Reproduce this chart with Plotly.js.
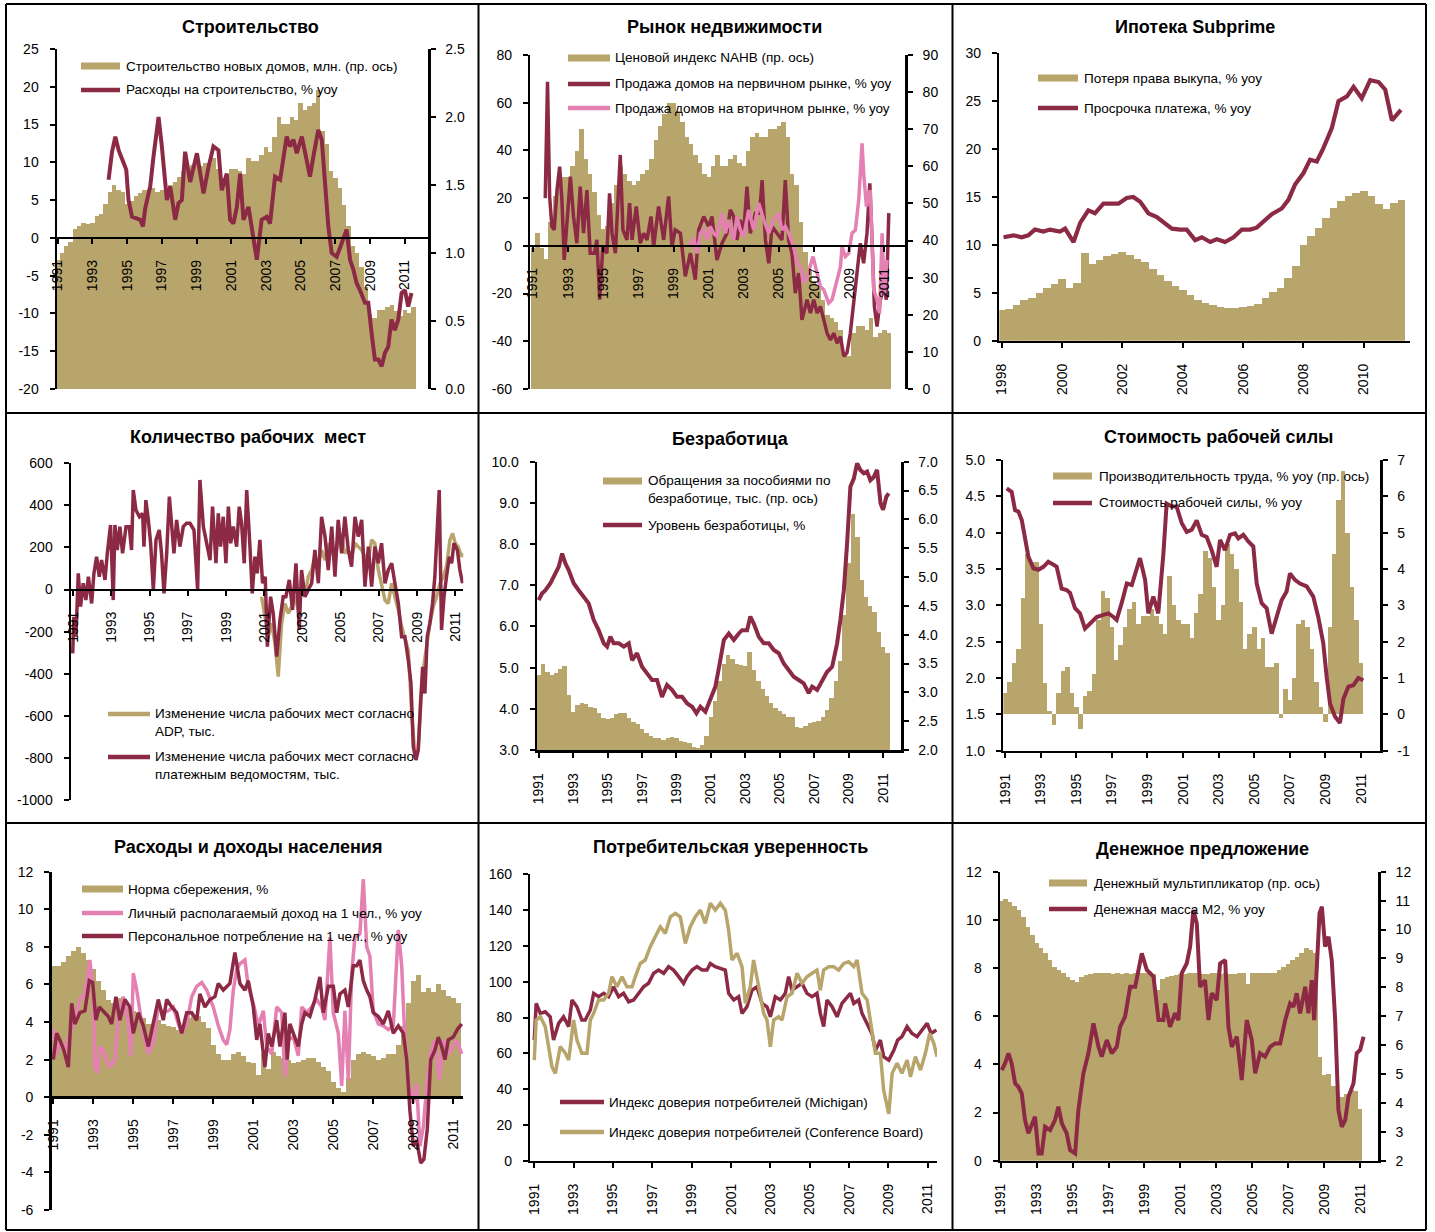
<!DOCTYPE html>
<html><head><meta charset="utf-8">
<script src="https://cdn.plot.ly/plotly-3.0.1.min.js"></script>
<style>body{margin:0;background:#fff}#chart{width:1435px;height:1232px}</style>
</head><body><div id="chart"></div>
<script>
// ---------------- DATA ----------------
// Panel 1: Строительство (quarterly from 1991 Q1)
const housingStarts = [0.95,1.0,1.05,1.08, 1.18,1.2,1.22,1.21, 1.22,1.27,1.29,1.36, 1.45,1.50,1.46,1.45, 1.36,1.38,1.42,1.44, 1.46,1.47,1.48,1.45, 1.46,1.47,1.50,1.52, 1.56,1.60,1.62,1.65, 1.70,1.64,1.66,1.66, 1.70,1.62,1.55,1.55, 1.62,1.62,1.60,1.58, 1.70,1.68,1.68,1.72, 1.78,1.74,1.85,2.0, 1.95,1.95,2.0,1.98, 2.1,2.05,2.08,2.1, 2.2,1.9,1.8,1.6, 1.55,1.48,1.35,1.2, 1.05,1.0,0.9,0.75, 0.55,0.52,0.58,0.58, 0.6,0.62,0.57,0.54, 0.58,0.56,0.6];
const constrSpendX = [1993.93,1994.13,1994.32,1994.51,1994.80,1994.95,1995.08,1995.28,1995.76,1995.91,1996.04,1996.33,1996.52,1996.81,1997.00,1997.29,1997.48,1997.77,1997.96,1998.15,1998.34,1998.63,1999.02,1999.21,1999.40,1999.69,1999.97,2000.26,2000.45,2000.74,2000.93,2001.12,2001.32,2001.51,2001.70,2001.99,2002.18,2002.47,2002.75,2003.04,2003.23,2003.52,2003.81,2004.00,2004.19,2004.38,2004.58,2004.77,2005.06,2005.34,2005.53,2005.73,2006.01,2006.21,2006.40,2006.59,2006.78,2007.07,2007.36,2007.64,2007.84,2008.03,2008.22,2008.41,2008.70,2008.89,2009.08,2009.27,2009.47,2009.66,2009.85,2010.04,2010.23,2010.42,2010.62,2010.81,2011.00,2011.19,2011.38];
const constrSpendY = [7.7,11.4,13.4,11.6,9.9,9.0,5.0,2.8,2.4,1.5,3.9,6.8,10.8,16.0,12.1,5.0,6.8,2.4,4.6,5.0,11.4,7.4,11.2,8.5,5.9,9.4,12.1,11.6,6.3,8.5,2.4,1.9,4.1,8.5,2.4,4.1,1.5,-2.9,2.4,2.8,1.9,8.1,7.7,10.3,13.4,12.1,13.0,11.2,13.4,10.3,8.1,10.8,14.3,13.0,6.8,1.5,-2.0,-2.5,-0.7,1.1,-2.9,-4.2,-6.0,-6.9,-8.6,-8.6,-12.6,-16.1,-16.1,-17.0,-15.2,-14.4,-10.8,-12.2,-10.8,-7.3,-6.9,-9.1,-7.3];

// Panel 2: Рынок недвижимости
const nahbIndex = [38,42,38,35, 45,52,56,57, 57,60,64,70, 62,58,53,47, 43,44,50,55, 60,58,56,55, 56,58,59,62, 67,71,74,77, 77,75,72,68, 66,63,61,58, 57,60,63,60, 60,62,63,61, 60,64,68,69, 68,68,70,70, 71,72,68,58, 55,45,37,32, 29,28,24,20, 19,18,16,10, 9,15,17,17, 16,19,14,15, 16,15];
const newHomeX = [1991.70,1991.83,1991.95,1992.08,1992.21,1992.37,1992.52,1992.65,1992.78,1992.94,1993.13,1993.31,1993.50,1993.69,1993.88,1994.07,1994.26,1994.49,1994.64,1994.80,1994.98,1995.21,1995.36,1995.50,1995.69,1995.97,1996.12,1996.35,1996.50,1996.64,1996.88,1997.11,1997.30,1997.49,1997.72,1997.87,1998.15,1998.44,1998.72,1998.91,1999.10,1999.39,1999.67,1999.96,2000.24,2000.43,2000.72,2001.00,2001.19,2001.47,2001.76,2002.04,2002.23,2002.42,2002.61,2002.80,2002.99,2003.18,2003.37,2003.66,2003.90,2004.04,2004.23,2004.42,2004.61,2004.89,2005.17,2005.36,2005.55,2005.74,2005.93,2006.12,2006.31,2006.60,2006.79,2006.98,2007.17,2007.36,2007.55,2007.74,2007.93,2008.12,2008.31,2008.50,2008.69,2008.87,2009.06,2009.25,2009.44,2009.63,2009.82,2010.01,2010.17,2010.30,2010.43,2010.58,2010.77,2011.00,2011.11,2011.25];
const newHomeY = [20,68.8,20.7,8.1,6.7,23.4,33.2,19.3,-5.9,12.3,29,12.3,1.1,24.8,5.3,23.4,-3.1,-3.1,2.5,-22.6,-0.3,-3.1,22,5.3,-3.1,38.1,6.7,2.5,17.9,2.5,16.5,1.1,5.3,2.5,12.3,-0.3,16.5,2.5,20.7,-0.3,6.7,5.3,-12.8,-3.1,-14.2,6.7,12.3,8.1,12.3,-5.9,1.1,5.3,15.1,12.3,2.5,10.9,5.3,24.8,5.3,13.7,13.7,27.6,2.5,-7.3,8.1,5.3,2.5,27.6,2.5,-3.1,-19.8,-11.4,-31,-22.6,-28.2,-22.6,-28.2,-25.4,-31,-36.6,-39.4,-36.6,-40.8,-38,-46.3,-44.9,-36.6,-22.6,-11.4,1.1,-7.3,5.3,26.2,2.5,-25.4,-33.8,-22.6,-17,-22.6,13.7];
const existHomeX = [1999.86,2000.15,2000.34,2000.53,2000.72,2000.91,2001.09,2001.28,2001.47,2001.76,2001.95,2002.14,2002.42,2002.61,2002.80,2002.99,2003.28,2003.56,2003.85,2004.13,2004.42,2004.70,2004.98,2005.17,2005.36,2005.55,2005.84,2006.03,2006.22,2006.41,2006.60,2006.79,2006.94,2007.17,2007.36,2007.55,2007.83,2008.02,2008.21,2008.50,2008.59,2008.78,2008.97,2009.16,2009.35,2009.54,2009.73,2009.82,2009.98,2010.20,2010.39,2010.58,2010.73,2010.87,2011.00,2011.15];
const existHomeY = [-0.3,3.2,-3.1,5.3,6.7,2.5,8.1,5.3,3.9,13.7,5.3,10.9,2.5,12.3,6.7,3.9,15.1,6.7,17.9,10.9,5.3,10.9,13.7,6.7,8.1,5.3,-0.3,-7.3,-8.7,-15.6,-12.8,-8.7,-4.5,-11.4,-17,-18.4,-24,-22.6,-17,-8.7,-0.3,-4.5,-3.1,5.3,6.7,19.3,43,30.4,16.5,23.4,-18.4,-22.6,-28.2,5.3,-19.8,-5.9];

// Panel 3: Ипотека Subprime (quarterly from 1998 Q1)
const foreclosure = [3.2,3.3,3.7,4.3, 4.5,5.0,5.5,5.9, 6.4,5.5,6.0,9.2, 8.0,8.4,8.8,9.1, 9.3,8.9,8.5,8.2, 7.5,6.9,6.2,5.7, 5.3,4.8,4.3,3.9, 3.7,3.5,3.4,3.4, 3.5,3.6,3.8,4.5, 5.1,5.5,6.5,7.8, 10.0,10.9,11.8,12.8, 13.9,14.6,15.1,15.4, 15.6,15.1,14.3,13.8, 14.4,14.7];
const delinqX = [1998.06,1998.39,1998.66,1998.88,1999.10,1999.38,1999.60,1999.93,2000.10,2000.38,2000.60,2000.87,2001.09,2001.37,2001.65,2001.87,2002.14,2002.36,2002.59,2002.86,2003.14,2003.41,2003.64,2003.91,2004.13,2004.41,2004.63,2004.91,2005.13,2005.40,2005.68,2005.96,2006.23,2006.45,2006.73,2006.95,2007.28,2007.50,2007.72,2008.00,2008.22,2008.44,2008.66,2008.94,2009.16,2009.44,2009.66,2009.93,2010.21,2010.49,2010.71,2010.93,2011.23];
const delinqY = [10.8,11.0,10.8,11.0,11.6,11.4,11.6,11.4,11.7,10.3,12.3,13.6,13.3,14.3,14.3,14.3,14.9,15.0,14.5,13.3,12.9,12.3,11.7,11.6,11.6,10.5,10.8,10.3,10.6,10.3,10.8,11.6,11.6,11.8,12.6,13.2,13.8,14.7,16.3,17.5,18.9,18.7,20.1,22.2,25.0,25.5,26.5,25.3,27.2,27.0,26.2,23.0,24.1];

// Panel 4: Количество рабочих мест
const payrollX = [1990.97,1991.03,1991.14,1991.26,1991.38,1991.52,1991.66,1991.79,1991.96,1992.08,1992.22,1992.36,1992.48,1992.66,1992.78,1992.95,1993.09,1993.18,1993.30,1993.44,1993.58,1993.76,1993.93,1994.05,1994.14,1994.28,1994.46,1994.63,1994.70,1994.80,1994.93,1995.05,1995.19,1995.33,1995.50,1995.62,1995.75,1995.89,1996.03,1996.15,1996.27,1996.41,1996.58,1996.76,1996.93,1997.11,1997.32,1997.51,1997.63,1997.81,1997.98,1998.16,1998.29,1998.47,1998.59,1998.71,1998.85,1998.99,1999.12,1999.24,1999.38,1999.55,1999.69,1999.81,1999.95,2000.08,2000.25,2000.37,2000.51,2000.63,2000.77,2000.91,2001.05,2001.16,2001.33,2001.47,2001.65,2001.82,2001.99,2002.13,2002.31,2002.48,2002.66,2002.83,2002.95,2003.13,2003.30,2003.48,2003.65,2003.83,2004.00,2004.18,2004.35,2004.53,2004.70,2004.87,2005.05,2005.22,2005.40,2005.57,2005.75,2005.92,2006.10,2006.27,2006.45,2006.62,2006.79,2006.97,2007.14,2007.32,2007.49,2007.67,2007.84,2008.02,2008.19,2008.36,2008.54,2008.68,2008.80,2008.94,2009.06,2009.19,2009.29,2009.41,2009.53,2009.67,2009.81,2009.93,2010.06,2010.16,2010.28,2010.41,2010.54,2010.69,2010.81,2010.93,2011.11,2011.24,2011.38];
const payrollY = [-303,-129,-224,77,-81,30,-50,61,-66,77,156,61,140,46,172,307,-50,307,188,299,172,299,299,188,473,378,346,362,204,425,331,220,-2,236,283,172,-18,172,442,299,172,331,204,299,315,315,283,-2,521,299,220,140,394,125,362,204,346,125,394,220,299,204,394,315,125,473,204,-18,156,77,236,30,61,-271,-34,-113,-319,-145,-34,-34,46,-97,125,-192,93,-34,-2,30,188,30,346,252,93,299,61,331,172,346,188,109,346,252,331,14,204,14,204,125,220,30,93,125,30,-66,-224,-224,-335,-446,-746,-810,-762,-573,-367,-494,-224,-160,-66,61,331,473,-192,-34,61,156,125,220,188,93,30];
const adpX = [2000.86,2001.03,2001.21,2001.38,2001.56,2001.73,2001.91,2002.08,2002.26,2002.43,2002.61,2002.78,2002.95,2003.13,2003.30,2003.48,2003.65,2003.83,2004.00,2004.18,2004.35,2004.53,2004.70,2004.87,2005.05,2005.22,2005.40,2005.57,2005.75,2005.92,2006.10,2006.27,2006.45,2006.62,2006.79,2006.97,2007.14,2007.32,2007.49,2007.67,2007.84,2008.02,2008.19,2008.36,2008.54,2008.71,2008.89,2009.06,2009.19,2009.32,2009.50,2009.67,2009.85,2010.02,2010.20,2010.37,2010.54,2010.72,2010.86,2011.00,2011.15,2011.33,2011.42];
const adpY = [-34,-129,-224,-160,-255,-414,-160,-66,-113,-81,-34,-97,-2,-34,61,93,156,125,188,140,220,172,156,220,252,172,188,156,220,204,188,156,140,236,220,93,30,-50,-66,30,-34,-97,-176,-224,-287,-573,-794,-762,-510,-383,-255,-160,-81,-34,30,61,109,236,267,220,204,156,172];

// Panel 5: Безработица (claims quarterly from 1991 Q1, right axis)
const jobClaims = [3.3,3.5,3.35,3.30, 3.33,3.40,3.45,2.95, 2.66,2.78,2.81,2.80, 2.75,2.72,2.65,2.55, 2.54,2.56,2.63,2.65, 2.65,2.55,2.48,2.45, 2.36,2.30,2.24,2.21, 2.20,2.17,2.20,2.22, 2.20,2.16,2.14,2.12, 2.06,2.03,2.08,2.25, 2.58,2.85,3.20,3.50, 3.65,3.58,3.50,3.47, 3.45,3.70,3.39,3.20, 3.05,2.93,2.82,2.72, 2.68,2.62,2.58,2.58, 2.40,2.38,2.42,2.46, 2.48,2.50,2.58,2.70, 2.90,3.20,3.55,4.35, 5.25,6.10,5.70,4.95, 4.65,4.50,4.40,4.05, 3.78,3.68];
const unempX = [1991.00,1991.19,1991.39,1991.68,1991.97,1992.16,1992.36,1992.55,1992.74,1993.03,1993.32,1993.61,1993.90,1994.19,1994.48,1994.78,1994.97,1995.16,1995.36,1995.65,1995.94,1996.23,1996.42,1996.71,1997.00,1997.29,1997.58,1997.87,1998.16,1998.45,1998.74,1999.03,1999.33,1999.62,1999.91,2000.16,2000.39,2000.68,2000.97,2001.26,2001.51,2001.75,2002.04,2002.33,2002.62,2002.81,2003.10,2003.29,2003.49,2003.78,2004.07,2004.36,2004.65,2004.94,2005.23,2005.52,2005.81,2006.10,2006.39,2006.68,2006.88,2007.17,2007.46,2007.75,2008.04,2008.33,2008.52,2008.72,2008.91,2009.10,2009.30,2009.49,2009.68,2009.88,2010.07,2010.26,2010.46,2010.65,2010.85,2011.00,2011.19,2011.33];
const unempY = [6.64,6.80,6.88,7.05,7.29,7.45,7.77,7.53,7.37,7.05,6.88,6.72,6.56,6.16,5.91,5.59,5.51,5.75,5.59,5.59,5.51,5.59,5.18,5.35,5.02,4.86,4.70,4.70,4.29,4.58,4.46,4.29,4.29,4.13,4.05,3.89,4.05,3.93,4.21,4.54,5.10,5.67,5.83,5.67,5.83,5.91,5.91,6.24,6.07,5.75,5.59,5.59,5.43,5.35,5.10,4.94,4.78,4.70,4.62,4.38,4.54,4.46,4.66,4.90,5.02,5.59,6.16,6.88,8.02,9.39,9.59,9.96,9.80,9.72,9.76,9.55,9.63,9.80,8.99,8.83,9.15,9.23];

// Panel 6: Стоимость рабочей силы (productivity quarterly from 1991 Q1, right axis)
const productivity = [0.6,0.9,1.4,1.8, 3.2,4.4,4.2,4.2, 2.5,0.85,0.1,-0.3, 0.6,1.2,1.3,0.6, 0.2,-0.4,0.5,0.65, 1.1,2.6,3.4,3.2, 2.4,1.5,1.9,2.4, 2.9,3.1,2.5,2.7, 2.7,2.9,2.7,2.5, 2.2,3.8,3.0,2.6, 2.5,2.5,2.1,2.8, 3.3,4.5,4.3,3.5, 2.6,3.0,4.7,4.4, 4.0,3.1,1.8,2.2, 2.4,1.8,2.1,1.3, 1.3,1.4,-0.1,0.7, 0.4,1.0,2.5,2.6, 2.4,1.8,0.9,0.2, -0.2,2.4,4.4,5.9, 6.7,5.0,3.5,2.6, 1.4];
const laborCostX = [1991.09,1991.37,1991.56,1991.75,1991.94,1992.12,1992.31,1992.59,1992.87,1993.15,1993.43,1993.72,1993.90,1994.18,1994.46,1994.65,1994.93,1995.21,1995.49,1995.78,1996.15,1996.52,1996.81,1997.09,1997.27,1997.55,1997.84,1998.12,1998.40,1998.58,1998.87,1999.05,1999.33,1999.61,1999.90,2000.08,2000.36,2000.64,2000.93,2001.21,2001.49,2001.77,2002.05,2002.33,2002.61,2002.89,2003.08,2003.36,2003.64,2003.92,2004.11,2004.39,2004.67,2004.95,2005.14,2005.42,2005.70,2005.98,2006.26,2006.54,2006.82,2007.01,2007.29,2007.57,2007.95,2008.32,2008.60,2008.88,2009.07,2009.26,2009.54,2009.82,2010.01,2010.29,2010.57,2010.85,2011.13];
const laborCostY = [4.61,4.56,4.31,4.29,4.17,3.94,3.67,3.51,3.49,3.53,3.60,3.56,3.53,3.23,3.21,3.17,2.96,2.89,2.68,2.75,2.84,2.87,2.89,2.84,2.80,3.03,3.30,3.28,3.53,3.65,3.35,2.89,3.12,2.89,3.72,4.40,4.36,4.36,4.13,4.01,4.04,4.17,3.97,3.94,3.76,3.53,3.90,3.76,3.97,3.99,3.92,3.97,3.88,3.81,3.30,3.03,2.96,2.61,2.84,3.07,3.19,3.44,3.35,3.30,3.26,3.12,2.84,2.48,2.02,1.65,1.47,1.38,1.71,1.88,1.90,2.00,1.97];

// Panel 7: Расходы и доходы населения (savings quarterly from 1991 Q1)
const savingsRate = [7.0,7.0,7.2,7.5, 7.8,8.0,7.7,7.3, 6.8,6.2,5.7,5.2, 5.0,5.3,5.0,4.8, 4.6,4.5,4.2,3.9, 3.9,4.1,3.9,3.8, 3.75,3.6,3.8,4.2, 4.4,4.3,4.0,3.7, 2.8,2.3,2.0,2.0, 2.3,2.4,2.2,1.9, 1.8,1.2,2.3,1.5, 2.4,2.2,2.1,2.0, 1.8,1.9,2.0,2.1, 2.1,1.9,1.6,1.4, 0.8,0.5,0.3,1.0, 2.0,2.3,2.4,2.3, 2.2,2.0,2.1,2.3, 2.3,2.8,3.8,5.0, 6.2,6.5,5.6,5.8, 5.6,6.0,5.7,5.4, 5.3,5.0];
const incomeX = [1991.00,1991.17,1991.33,1991.58,1991.83,1992.08,1992.33,1992.58,1992.83,1992.97,1993.08,1993.20,1993.33,1993.50,1993.67,1993.83,1994.08,1994.25,1994.50,1994.75,1994.88,1995.00,1995.17,1995.33,1995.50,1995.75,1996.00,1996.25,1996.50,1996.75,1997.00,1997.25,1997.42,1997.67,1997.92,1998.17,1998.42,1998.67,1999.00,1999.25,1999.50,1999.67,1999.83,2000.00,2000.17,2000.33,2000.58,2000.75,2001.00,2001.25,2001.50,2001.67,2001.92,2002.17,2002.42,2002.58,2002.75,2003.00,2003.25,2003.42,2003.67,2003.92,2004.17,2004.42,2004.58,2004.83,2005.00,2005.25,2005.42,2005.58,2005.75,2005.92,2006.08,2006.33,2006.50,2006.67,2006.83,2007.00,2007.25,2007.50,2007.75,2008.00,2008.25,2008.42,2008.58,2008.75,2009.00,2009.17,2009.33,2009.50,2009.67,2009.87,2010.08,2010.30,2010.50,2010.75,2011.00,2011.17,2011.42];
const incomeY = [3.6,2.3,3.0,2.5,3.4,4.1,5.2,5.5,7.3,5.9,1.6,1.3,2.7,2.5,2.0,1.6,2.0,4.3,5.35,3.9,2.2,6.6,5.7,4.6,3.4,2.3,2.9,4.8,4.5,4.6,4.8,3.9,3.4,3.9,5.35,5.9,6.1,5.7,4.8,3.8,3.05,2.8,3.6,5.7,6.8,7.1,7.3,5.9,5.0,3.8,4.6,2.7,2.3,4.8,4.5,1.1,3.05,3.2,2.2,4.8,4.5,4.8,5.2,4.8,4.1,8.5,4.5,3.4,0.6,4.6,0.9,6.6,8.5,8.7,11.6,8.0,7.5,4.6,3.9,3.8,3.6,3.8,8.9,7.0,3.05,0.9,-0.3,0.7,-2.6,-1.6,0.6,2.3,3.05,0.9,3.05,2.3,2.7,3.05,2.3];
const consumptionX = [1991.00,1991.17,1991.33,1991.53,1991.75,1991.92,1992.08,1992.33,1992.58,1992.80,1992.97,1993.13,1993.30,1993.50,1993.75,1993.92,1994.13,1994.33,1994.58,1994.83,1995.00,1995.25,1995.50,1995.75,1996.00,1996.25,1996.50,1996.67,1996.92,1997.17,1997.42,1997.67,1997.92,1998.17,1998.33,1998.58,1998.83,1999.08,1999.25,1999.50,1999.83,2000.08,2000.33,2000.58,2000.75,2001.00,2001.17,2001.33,2001.58,2001.75,2001.92,2002.17,2002.33,2002.58,2002.70,2002.83,2003.00,2003.25,2003.42,2003.58,2003.83,2004.08,2004.33,2004.50,2004.75,2005.00,2005.17,2005.33,2005.58,2005.75,2006.00,2006.17,2006.33,2006.50,2006.67,2006.83,2007.00,2007.25,2007.50,2007.75,2008.00,2008.25,2008.50,2008.67,2008.83,2009.00,2009.17,2009.37,2009.53,2009.70,2009.87,2010.08,2010.25,2010.42,2010.58,2010.75,2011.00,2011.20,2011.42];
const consumptionY = [2.0,3.4,3.05,2.5,1.6,5.0,3.9,4.5,4.6,6.2,6.1,4.1,4.8,4.6,4.3,3.9,5.35,4.1,5.2,4.8,3.4,4.5,3.8,2.7,3.9,5.2,4.1,5.2,4.8,4.5,3.4,4.5,4.5,4.1,5.5,4.8,5.2,5.35,6.05,5.7,6.05,7.7,6.05,5.7,6.2,4.8,3.05,3.9,1.6,3.4,2.7,4.1,2.7,4.5,2.0,3.9,3.4,2.7,3.9,4.5,4.3,5.2,6.4,4.5,5.9,5.9,4.5,5.5,5.7,4.8,7.0,7.0,7.3,6.2,5.7,5.35,4.5,4.3,3.9,4.6,3.4,3.8,3.4,2.0,-0.7,-2.6,-2.3,-3.5,-3.3,-1.7,2.0,2.5,3.2,2.7,2.0,3.05,3.2,3.6,3.9];

// Panel 8: Потребительская уверенность
const michiganX = [1991.00,1991.10,1991.31,1991.56,1991.81,1991.98,1992.24,1992.49,1992.75,1992.92,1993.17,1993.42,1993.59,1993.85,1994.02,1994.27,1994.53,1994.78,1995.03,1995.29,1995.54,1995.80,1996.05,1996.31,1996.56,1996.81,1997.07,1997.32,1997.58,1997.83,1998.08,1998.34,1998.59,1998.76,1999.02,1999.27,1999.53,1999.78,1999.95,2000.20,2000.46,2000.71,2000.88,2001.14,2001.39,2001.56,2001.81,2002.07,2002.32,2002.58,2002.83,2003.00,2003.25,2003.51,2003.76,2003.93,2004.10,2004.36,2004.61,2004.86,2005.12,2005.37,2005.54,2005.71,2005.88,2006.14,2006.39,2006.64,2006.90,2007.07,2007.24,2007.49,2007.66,2007.92,2008.17,2008.34,2008.59,2008.76,2009.02,2009.27,2009.47,2009.69,2009.95,2010.20,2010.46,2010.71,2010.97,2011.17,2011.44];
const michiganY = [67.4,87.9,82.3,83.2,80.4,67.4,76.7,80.4,74.9,89.8,86,78.6,78.6,84.2,93.5,91.6,93.5,91.6,97.2,91.6,93.5,88.8,89.8,93.5,97.2,99.1,104.7,106.5,104.7,108.4,106.5,102.8,99.1,102.8,106.5,108.4,106.5,106.5,110.2,108.4,107.4,106.5,93.5,89.8,91.6,82.3,86,95.3,97.2,87.9,86,80.4,91.6,89.8,93.5,102.8,95.3,97.2,99.1,93.5,91.6,93.5,82.3,74.9,89.8,86,80.4,87.9,91.6,93.5,87.9,89.8,82.3,76.7,70.8,61.5,67.4,58.1,56.2,61.5,67.4,69.3,74.9,71.1,69.3,73,76.7,71.1,73];
const confBoardX = [1991.00,1991.10,1991.31,1991.56,1991.73,1991.90,1992.07,1992.32,1992.58,1992.75,1993.00,1993.17,1993.42,1993.68,1993.85,1994.02,1994.27,1994.53,1994.78,1994.95,1995.20,1995.46,1995.71,1995.97,1996.14,1996.39,1996.64,1996.90,1997.15,1997.41,1997.66,1997.92,1998.17,1998.42,1998.68,1998.93,1999.19,1999.44,1999.69,1999.95,2000.20,2000.46,2000.71,2000.88,2001.05,2001.31,2001.56,2001.73,2001.98,2002.15,2002.41,2002.66,2002.83,2003.00,2003.17,2003.42,2003.59,2003.85,2004.10,2004.36,2004.61,2004.86,2005.12,2005.37,2005.54,2005.71,2005.97,2006.22,2006.47,2006.73,2006.98,2007.24,2007.41,2007.66,2007.92,2008.17,2008.34,2008.59,2008.76,2009.02,2009.19,2009.44,2009.69,2009.95,2010.12,2010.37,2010.63,2010.88,2011.10,2011.31,2011.47];
const confBoardY = [56.2,78.6,80.4,74.9,63.7,52.5,48.8,63.7,60,56.2,78.6,67.4,60,60,78.6,82.3,89.8,89.8,93.5,102.8,97.2,102.8,97.2,97.2,102.8,110.2,112.1,119.6,125.1,130.7,127,136.3,138.2,136.3,121.4,130.7,136.3,140,132.6,143.8,140,143.8,140,128.8,112.1,115.8,108.4,87.9,97.2,112.1,97.2,82.3,78.6,63.7,78.6,80.4,78.6,91.6,93.5,104.7,99.1,102.8,104.7,106.5,95.3,106.5,108.4,108.4,106.5,110.2,111.2,108.4,112.1,93.5,89.8,70.8,60,60,39.3,26.1,48.8,54.4,48.8,56.2,46.9,58.1,50.6,60,71.1,65.5,58.1];

// Panel 9: Денежное предложение (multiplier quarterly from 1991 Q1, right axis)
const moneyMult = [11.0,11.05,10.95,10.8, 10.67,10.45,10.1,9.8, 9.52,9.35,9.17,8.95, 8.71,8.6,8.48,8.35, 8.25,8.19,8.37,8.42, 8.45,8.48,8.48,8.48, 8.48,8.46,8.48,8.47, 8.48,8.45,8.48,8.5, 8.5,8.48,8.45,7.9, 8.3,8.35,8.4,8.42, 8.45,8.45,8.5,8.5, 8.5,8.45,8.45,8.48, 8.48,8.45,8.48,8.45, 8.45,8.48,8.48,8.1, 8.48,8.48,8.48,8.48, 8.48,8.5,8.6,8.7, 8.8,8.95,9.05,9.2, 9.35,9.3,9.2,5.6, 4.95,5.0,4.6,4.3, 4.2,4.3,4.45,4.4, 3.8];
const m2X = [1991.06,1991.24,1991.43,1991.61,1991.80,1991.98,1992.17,1992.35,1992.54,1992.73,1992.91,1993.10,1993.28,1993.47,1993.75,1994.02,1994.21,1994.40,1994.67,1994.86,1995.14,1995.32,1995.60,1995.88,1996.16,1996.44,1996.62,1996.90,1997.18,1997.46,1997.64,1997.92,1998.20,1998.48,1998.66,1998.85,1999.13,1999.50,1999.78,2000.05,2000.15,2000.42,2000.70,2000.89,2001.07,2001.35,2001.54,2001.72,2001.91,2002.09,2002.37,2002.56,2002.74,2003.02,2003.21,2003.49,2003.67,2003.86,2004.14,2004.41,2004.69,2004.97,2005.16,2005.43,2005.71,2005.99,2006.27,2006.55,2006.83,2007.10,2007.29,2007.47,2007.66,2007.94,2008.12,2008.31,2008.44,2008.59,2008.74,2008.87,2009.05,2009.24,2009.42,2009.61,2009.79,2009.98,2010.17,2010.35,2010.63,2010.81,2011.00,2011.19];
const m2Y = [3.76,4.04,4.46,4.04,3.21,3.07,2.8,1.69,1.14,1.55,1.83,0.3,0.3,1.41,1.27,1.69,2.24,1.55,1.14,0.44,0.3,2.1,3.63,4.46,5.7,4.73,4.32,5.01,4.46,4.73,5.56,5.98,7.22,7.22,7.92,8.61,7.92,7.64,5.84,5.84,6.53,5.56,6.12,5.84,7.78,8.19,8.89,10.41,9.85,7.22,7.5,5.84,6.95,6.67,8.19,8.33,5.56,4.73,5.15,3.35,5.84,5.01,3.63,4.46,4.32,4.73,4.87,4.87,5.84,6.53,6.39,6.95,6.12,7.22,6.12,7.5,5.84,7.92,10.27,10.55,8.89,9.3,8.33,5.84,2.1,1.41,1.69,2.66,3.21,4.46,4.6,5.15];

// Titles
const titles = ['Строительство','Рынок недвижимости','Ипотека Subprime','Количество рабочих  мест','Безработица','Стоимость рабочей силы','Расходы и доходы населения','Потребительская уверенность','Денежное предложение'];

// ---------------- STYLE / LAYOUT ----------------
const W = 1435, H = 1232;
const TAN = '#B8A56C', MAROON = '#8C2A45', PINK = '#E480B2';
const FONT = '"Liberation Sans", Arial, sans-serif';
const TICK_SIZE = 14, LEG_SIZE = 13.5, TITLE_SIZE = 18;
const fx = px => px / W, fy = py => 1 - py / H;
function quarters(start, n){ const a=[]; for(let i=0;i<n;i++) a.push(start + i*0.25); return a; }
function tk(min, max, step, dec){
  const v=[], t=[];
  for(let i=0; min + i*step <= max + 1e-9; i++){ const r = +(min + i*step).toFixed(6); v.push(r); t.push(dec ? r.toFixed(dec) : String(Math.round(r))); }
  return {tickvals:v, ticktext:t};
}
const xid = k => k===1 ? 'x' : 'x'+k;
const ybid = k => k===1 ? 'y' : 'y'+k;
const yoid = k => 'y'+(10+k);
const xkey = k => k===1 ? 'xaxis' : 'xaxis'+k;
const ybkey = k => k===1 ? 'yaxis' : 'yaxis'+k;
const yokey = k => 'yaxis'+(10+k);

// panel geometry (pixels)
const panels = [
 {k:1, l:57,   r:428,   t:49,    b:389,    xr:[1990.96,2012.33], x0:1991, x1:2011, cross:true,  left:[-20,25,5,0],  right:[0,2.5,0.5,1]},
 {k:2, l:530.3,r:905.3, t:55,    b:389,    xr:[1990.85,2012.19], x0:1991, x1:2011, cross:true,  left:[-60,80,20,0], right:[0,90,10,0]},
 {k:3, l:999.3,r:1410,  t:53.3,  b:340.7,  xr:[1997.92,2011.53], x0:1998, x1:2010, cross:false, left:[0,30,5,0]},
 {k:4, l:71,   r:463.3, t:463.3, b:800,    xr:[1990.88,2011.42], x0:1991, x1:2011, cross:true,  left:[-1000,600,200,0]},
 {k:5, l:537,  r:901,   t:461.7, b:750,    xr:[1990.9,2012.04],  x0:1991, x1:2011, cross:false, left:[3,10,1,1], right:[2,7,0.5,1]},
 {k:6, l:1003.3,r:1380, t:460,   b:750.7,  xr:[1990.9,2012.07],  x0:1991, x1:2011, cross:false, left:[1,5,0.5,1], right:[-1,7,1,0]},
 {k:7, l:51.7, r:463.3, t:871.7, b:1210,   xr:[1990.92,2011.5],  x0:1991, x1:2011, cross:true,  left:[-6,12,2,0]},
 {k:8, l:530.3,r:937,   t:874.3, b:1160.7, xr:[1990.8,2011.47],  x0:1991, x1:2011, cross:false, left:[0,160,20,0]},
 {k:9, l:1000, r:1378.3,t:871.7, b:1160.7, xr:[1990.96,2012.01], x0:1991, x1:2011, cross:false, left:[0,12,2,0], right:[2,12,1,0]}
];

const tickFont = {family:FONT, size:TICK_SIZE, color:'#000'};
const axisCommon = {showline:true, linecolor:'#000', linewidth:2.5, ticks:'outside', ticklen:5, tickwidth:2, tickcolor:'#000',
  showgrid:false, zeroline:false, tickfont:tickFont, fixedrange:true, tickmode:'array'};

const layout = {width:W, height:H, margin:{l:0,r:0,t:0,b:0,pad:0}, showlegend:false,
  paper_bgcolor:'#fff', plot_bgcolor:'rgba(0,0,0,0)', font:{family:FONT, color:'#000'},
  barmode:'overlay', bargap:0, shapes:[], annotations:[]};

panels.forEach(p => {
  const yl = p.left;
  const crossPy = p.t + (yl[1] - 0) / (yl[1] - yl[0]) * (p.b - p.t);
  const yrs = tk(p.x0, p.x1, 2, 0);
  layout[xkey(p.k)] = Object.assign({}, axisCommon, {
    domain:[fx(p.l), fx(p.r)], range:p.xr, tickvals:yrs.tickvals, ticktext:yrs.ticktext, tickangle:-90,
    ticklabelstandoff:10,
    anchor: p.cross ? 'free' : ybid(p.k), position: p.cross ? fy(crossPy) : undefined
  });
  if (p.right) {
    const tr = tk(p.right[0], p.right[1], p.right[2], p.right[3]);
    layout[ybkey(p.k)] = Object.assign({}, axisCommon, {domain:[fy(p.b), fy(p.t)], range:[p.right[0], p.right[1]],
      tickvals:tr.tickvals, ticktext:tr.ticktext, side:'right', anchor:xid(p.k), ticklabelstandoff:7});
    const tl = tk(yl[0], yl[1], yl[2], yl[3]);
    layout[yokey(p.k)] = Object.assign({}, axisCommon, {range:[yl[0], yl[1]], tickvals:tl.tickvals, ticktext:tl.ticktext,
      side:'left', anchor:xid(p.k), overlaying:ybid(p.k), ticklabelstandoff:8});
  } else {
    const tl = tk(yl[0], yl[1], yl[2], yl[3]);
    layout[ybkey(p.k)] = Object.assign({}, axisCommon, {domain:[fy(p.b), fy(p.t)], range:[yl[0], yl[1]],
      tickvals:tl.tickvals, ticktext:tl.ticktext, side:'left', anchor:xid(p.k), ticklabelstandoff:8});
  }
});

// ---------------- TRACES ----------------
const traces = [];
function bar(k, x, y, name){ traces.push({type:'bar', name, x, y, xaxis:xid(k), yaxis:ybid(k), width:0.26,
  marker:{color:TAN, line:{width:0}}, hoverinfo:'skip'}); }
function line(k, x, y, color, name, overlay, w){ traces.push({type:'scatter', mode:'lines', name, x, y, xaxis:xid(k),
  yaxis: overlay ? yoid(k) : ybid(k), line:{color, width:w||4}, hoverinfo:'skip'}); }

const N = {
 s1a:'Строительство новых домов, млн. (пр. ось)', s1b:'Расходы на строительство, % уоу',
 s2a:'Ценовой индекс NAHB (пр. ось)', s2b:'Продажа домов на первичном рынке, % уоу', s2c:'Продажа домов на вторичном рынке, % уоу',
 s3a:'Потеря права выкупа, % уоу', s3b:'Просрочка платежа, % уоу',
 s4a:'Изменение числа рабочих мест согласно<br>ADP, тыс.', s4b:'Изменение числа рабочих мест согласно<br>платежным ведомостям, тыс.',
 s5a:'Обращения за пособиями по<br>безработице, тыс. (пр. ось)', s5b:'Уровень безработицы, %',
 s6a:'Производительность труда, % уоу (пр. ось)', s6b:'Стоимость рабочей силы, % уоу',
 s7a:'Норма сбережения, %', s7b:'Личный располагаемый доход на 1 чел., % уоу', s7c:'Персональное потребление на 1 чел., % уоу',
 s8a:'Индекс доверия потребителей (Michigan)', s8b:'Индекс доверия потребителей (Conference Board)',
 s9a:'Денежный мультипликатор (пр. ось)', s9b:'Денежная масса М2, % уоу'
};

bar(1, quarters(1991, housingStarts.length), housingStarts, N.s1a);
line(1, constrSpendX, constrSpendY, MAROON, N.s1b, true);
bar(2, quarters(1991, nahbIndex.length), nahbIndex, N.s2a);
line(2, newHomeX, newHomeY, MAROON, N.s2b, true, 3.5);
line(2, existHomeX, existHomeY, PINK, N.s2c, true, 3.5);
bar(3, quarters(1998, foreclosure.length), foreclosure, N.s3a);
line(3, delinqX, delinqY, MAROON, N.s3b, false, 4.2);
line(4, adpX, adpY, TAN, N.s4a, false, 3.5);
line(4, payrollX, payrollY, MAROON, N.s4b, false, 3.5);
bar(5, quarters(1991, jobClaims.length), jobClaims, N.s5a);
line(5, unempX, unempY, MAROON, N.s5b, true);
bar(6, quarters(1991, productivity.length), productivity, N.s6a);
line(6, laborCostX, laborCostY, MAROON, N.s6b, true);
bar(7, quarters(1991, savingsRate.length), savingsRate, N.s7a);
line(7, incomeX, incomeY, PINK, N.s7b, false, 3.5);
line(7, consumptionX, consumptionY, MAROON, N.s7c, false, 3.5);
line(8, michiganX, michiganY, MAROON, N.s8a, false, 3.5);
line(8, confBoardX, confBoardY, TAN, N.s8b, false, 3.5);
bar(9, quarters(1991, moneyMult.length), moneyMult, N.s9a);
line(9, m2X, m2Y, MAROON, N.s9b, true);

// ---------------- TITLES / LEGENDS / BORDERS ----------------
const titlePos = [[250,27],[724,27],[1195,27],[248,437],[730,439],[1218,437],[248,847],[730,847],[1202,849]];
titles.forEach((t,i) => layout.annotations.push({xref:'paper', yref:'paper', x:fx(titlePos[i][0]), y:fy(titlePos[i][1]),
  xanchor:'center', yanchor:'middle', showarrow:false, text:'<b>'+t+'</b>', font:{family:FONT, size:TITLE_SIZE, color:'#000'}}));

function legItem(kind, color, l, r, cy, tx, text, twoLine){
  if (kind === 'bar') layout.shapes.push({type:'rect', xref:'paper', yref:'paper', x0:fx(l), x1:fx(r), y0:fy(cy+3.5), y1:fy(cy-3.5), fillcolor:color, line:{width:0}});
  else layout.shapes.push({type:'line', xref:'paper', yref:'paper', x0:fx(l), x1:fx(r), y0:fy(cy), y1:fy(cy), line:{color, width:4.5}});
  layout.annotations.push({xref:'paper', yref:'paper', x:fx(tx), y: twoLine ? fy(cy-10) : fy(cy), xanchor:'left', yanchor: twoLine ? 'top' : 'middle',
    align:'left', showarrow:false, text, font:{family:FONT, size:LEG_SIZE, color:'#000'}});
}
legItem('bar', TAN, 81, 120, 66, 124, N.s1a);
legItem('line', MAROON, 81, 120, 90, 124, N.s1b);
legItem('bar', TAN, 568, 610, 58, 613, N.s2a);
legItem('line', MAROON, 568, 610, 84, 613, N.s2b);
legItem('line', PINK, 568, 610, 108, 613, N.s2c);
legItem('bar', TAN, 1038, 1078, 78, 1082, N.s3a);
legItem('line', MAROON, 1038, 1078, 108, 1082, N.s3b);
legItem('line', TAN, 108, 150, 714, 153, N.s4a, true);
legItem('line', MAROON, 108, 150, 757, 153, N.s4b, true);
legItem('bar', TAN, 603, 642, 481, 646, N.s5a, true);
legItem('line', MAROON, 603, 642, 525, 646, N.s5b);
legItem('bar', TAN, 1053, 1092, 476, 1097, N.s6a);
legItem('line', MAROON, 1053, 1092, 503, 1097, N.s6b);
legItem('bar', TAN, 82, 123, 889, 126, N.s7a);
legItem('line', PINK, 82, 123, 913, 126, N.s7b);
legItem('line', MAROON, 82, 123, 936, 126, N.s7c);
legItem('line', MAROON, 560, 604, 1102, 607, N.s8a);
legItem('line', TAN, 560, 604, 1132, 607, N.s8b);
legItem('bar', TAN, 1049, 1087, 883, 1092, N.s9a);
legItem('line', MAROON, 1049, 1087, 909, 1092, N.s9b);

// panel borders
[6, 478.5, 952.5, 1426].forEach(x => layout.shapes.push({type:'line', xref:'paper', yref:'paper', x0:fx(x), x1:fx(x), y0:fy(4), y1:fy(1230), line:{color:'#000', width:2}}));
[4, 413, 823, 1230].forEach(y => layout.shapes.push({type:'line', xref:'paper', yref:'paper', x0:fx(6), x1:fx(1426), y0:fy(y), y1:fy(y), line:{color:'#000', width:2}}));

Plotly.newPlot('chart', traces, layout, {staticPlot:true, displayModeBar:false});
</script></body></html>
